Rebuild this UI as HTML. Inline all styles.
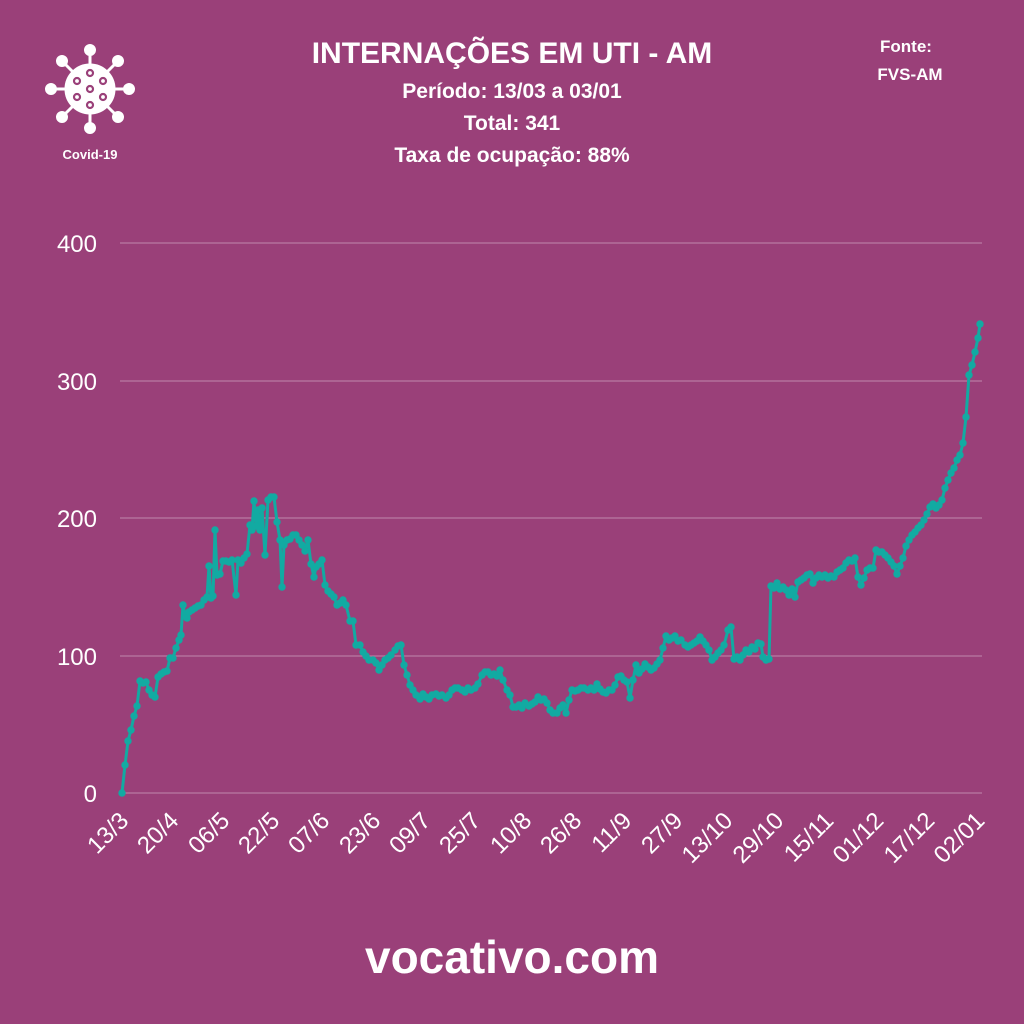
<!DOCTYPE html>
<html><head><meta charset="utf-8"><style>
html,body{margin:0;padding:0;background:#9a4079;}
svg{display:block}
</style></head><body>
<svg width="1024" height="1024" viewBox="0 0 1024 1024" xmlns="http://www.w3.org/2000/svg" font-family="Liberation Sans, sans-serif">
<defs>
<marker id="dot" markerUnits="userSpaceOnUse" markerWidth="10" markerHeight="10" refX="5" refY="5" viewBox="0 0 10 10"><circle cx="5" cy="5" r="3.7" fill="#12aaa2"/></marker>
</defs>
<rect width="1024" height="1024" fill="#9a4079"/>
<g stroke="#fff" stroke-width="3" fill="#fff">
<line x1="90" y1="50" x2="90" y2="128"/><line x1="51" y1="89" x2="129" y2="89"/>
<line x1="62" y1="61" x2="118" y2="117"/><line x1="118" y1="61" x2="62" y2="117"/>
<circle cx="90" cy="50" r="4.5"/><circle cx="90" cy="128" r="4.5"/><circle cx="51" cy="89" r="4.5"/><circle cx="129" cy="89" r="4.5"/>
<circle cx="62" cy="61" r="4.5"/><circle cx="118" cy="117" r="4.5"/><circle cx="118" cy="61" r="4.5"/><circle cx="62" cy="117" r="4.5"/>
<circle cx="90" cy="89" r="24"/>
</g>
<g fill="none" stroke="#9a4079" stroke-width="2.2">
<circle cx="90" cy="73" r="3"/><circle cx="90" cy="89" r="3"/><circle cx="90" cy="105" r="3"/>
<circle cx="77" cy="81" r="3"/><circle cx="103" cy="81" r="3"/><circle cx="77" cy="97" r="3"/><circle cx="103" cy="97" r="3"/>
</g>
<text x="90" y="159" fill="#fff" font-size="13" font-weight="bold" text-anchor="middle">Covid-19</text>
<g fill="#fff" font-weight="bold" text-anchor="middle">
<text x="512" y="63" font-size="30">INTERNAÇÕES EM UTI - AM</text>
<text x="512" y="98" font-size="21">Período: 13/03 a 03/01</text>
<text x="512" y="130" font-size="21">Total: 341</text>
<text x="512" y="162" font-size="21">Taxa de ocupação: 88%</text>
<text x="906" y="52" font-size="17">Fonte:</text>
<text x="910" y="80" font-size="17">FVS-AM</text>
<text x="512" y="973" font-size="46">vocativo.com</text>
</g>
<g stroke="#b97aa3" stroke-width="1.2">
<line x1="120" y1="243" x2="982" y2="243"/><line x1="120" y1="381" x2="982" y2="381"/>
<line x1="120" y1="518" x2="982" y2="518"/><line x1="120" y1="656" x2="982" y2="656"/><line x1="120" y1="793" x2="982" y2="793"/>
</g>
<g fill="#fff" font-size="24" text-anchor="end">
<text x="97" y="252">400</text><text x="97" y="390">300</text><text x="97" y="527">200</text><text x="97" y="665">100</text><text x="97" y="802">0</text>
</g>
<g fill="#fff" font-size="24" text-anchor="end">
<text transform="translate(130,822) rotate(-45)">13/3</text>
<text transform="translate(180,822) rotate(-45)">20/4</text>
<text transform="translate(231,822) rotate(-45)">06/5</text>
<text transform="translate(281,822) rotate(-45)">22/5</text>
<text transform="translate(331,822) rotate(-45)">07/6</text>
<text transform="translate(382,822) rotate(-45)">23/6</text>
<text transform="translate(432,822) rotate(-45)">09/7</text>
<text transform="translate(482,822) rotate(-45)">25/7</text>
<text transform="translate(533,822) rotate(-45)">10/8</text>
<text transform="translate(583,822) rotate(-45)">26/8</text>
<text transform="translate(633,822) rotate(-45)">11/9</text>
<text transform="translate(684,822) rotate(-45)">27/9</text>
<text transform="translate(734,822) rotate(-45)">13/10</text>
<text transform="translate(785,822) rotate(-45)">29/10</text>
<text transform="translate(835,822) rotate(-45)">15/11</text>
<text transform="translate(885,822) rotate(-45)">01/12</text>
<text transform="translate(936,822) rotate(-45)">17/12</text>
<text transform="translate(986,822) rotate(-45)">02/01</text>
</g>
<polyline fill="none" stroke="#12aaa2" stroke-width="3" stroke-linejoin="round" marker-start="url(#dot)" marker-mid="url(#dot)" marker-end="url(#dot)" points="122,793 125,765 128,741 131,730 134,716 137,706 140,681 143,683 146,682 149,690 152,695 155,697 158,677 161,674 164,672 167,671 170,658 173,658 176,648 179,640 181,635 183,605 185,615 187,618 189,612 192,610 195,608 198,606 201,605 204,600 207,597 209,566 211,598 213,596 215,530 217,575 220,574 223,561 226,561 229,562 232,560 236,595 238,560 241,563 244,558 247,554 250,525 252,530 254,501 256,526 258,510 260,530 262,508 265,555 268,500 271,497 274,497 277,522 280,540 282,587 284,545 287,540 290,539 293,535 296,535 299,540 302,545 305,551 308,540 311,564 314,577 316,567 319,564 322,560 325,585 328,591 331,594 334,597 337,605 340,603 343,600 346,605 350,621 353,621 356,645 360,645 363,652 366,656 369,660 373,660 376,663 379,670 382,665 385,660 388,658 391,655 395,650 398,646 401,645 404,665 407,675 410,685 413,690 416,695 420,699 423,694 426,697 429,699 432,695 436,694 439,696 442,695 446,698 449,695 452,690 455,688 458,688 462,690 465,692 468,688 471,690 475,688 478,684 482,675 485,672 488,672 491,675 494,674 497,676 500,670 503,680 507,690 510,695 513,707 516,707 519,705 522,708 525,703 529,706 532,704 535,702 538,697 541,700 544,699 547,703 550,710 553,713 557,713 560,708 563,705 566,713 569,700 572,690 575,691 578,690 581,688 584,688 588,690 591,688 594,690 597,684 600,689 603,692 606,693 609,690 612,690 615,685 618,677 621,676 624,680 627,682 630,698 633,680 636,665 639,673 642,669 645,664 648,667 651,670 654,668 657,664 660,660 663,648 666,636 669,640 672,638 675,636 678,641 681,640 685,645 688,647 691,645 694,643 697,641 700,637 703,641 706,645 709,650 712,660 715,657 718,653 721,650 724,645 728,630 731,627 734,659 737,657 740,660 743,655 746,650 749,652 752,647 755,649 758,643 761,644 763,657 766,660 769,659 771,586 774,588 777,583 780,589 783,587 786,590 789,595 792,589 795,597 798,582 801,580 804,578 807,575 810,574 813,583 816,578 819,575 822,577 825,575 828,578 831,576 834,577 837,572 840,570 843,568 846,563 849,560 852,561 855,558 858,577 861,585 864,578 867,570 870,568 873,568 876,550 879,552 882,552 885,555 888,558 891,562 894,566 897,574 900,566 903,558 906,546 909,540 912,535 915,532 918,528 921,525 924,520 927,514 930,507 933,504 936,508 939,505 942,500 945,488 948,480 951,473 954,468 957,460 960,455 963,443 966,417 969,375 972,365 975,352 978,338 980,324"/>
</svg>
</body></html>
